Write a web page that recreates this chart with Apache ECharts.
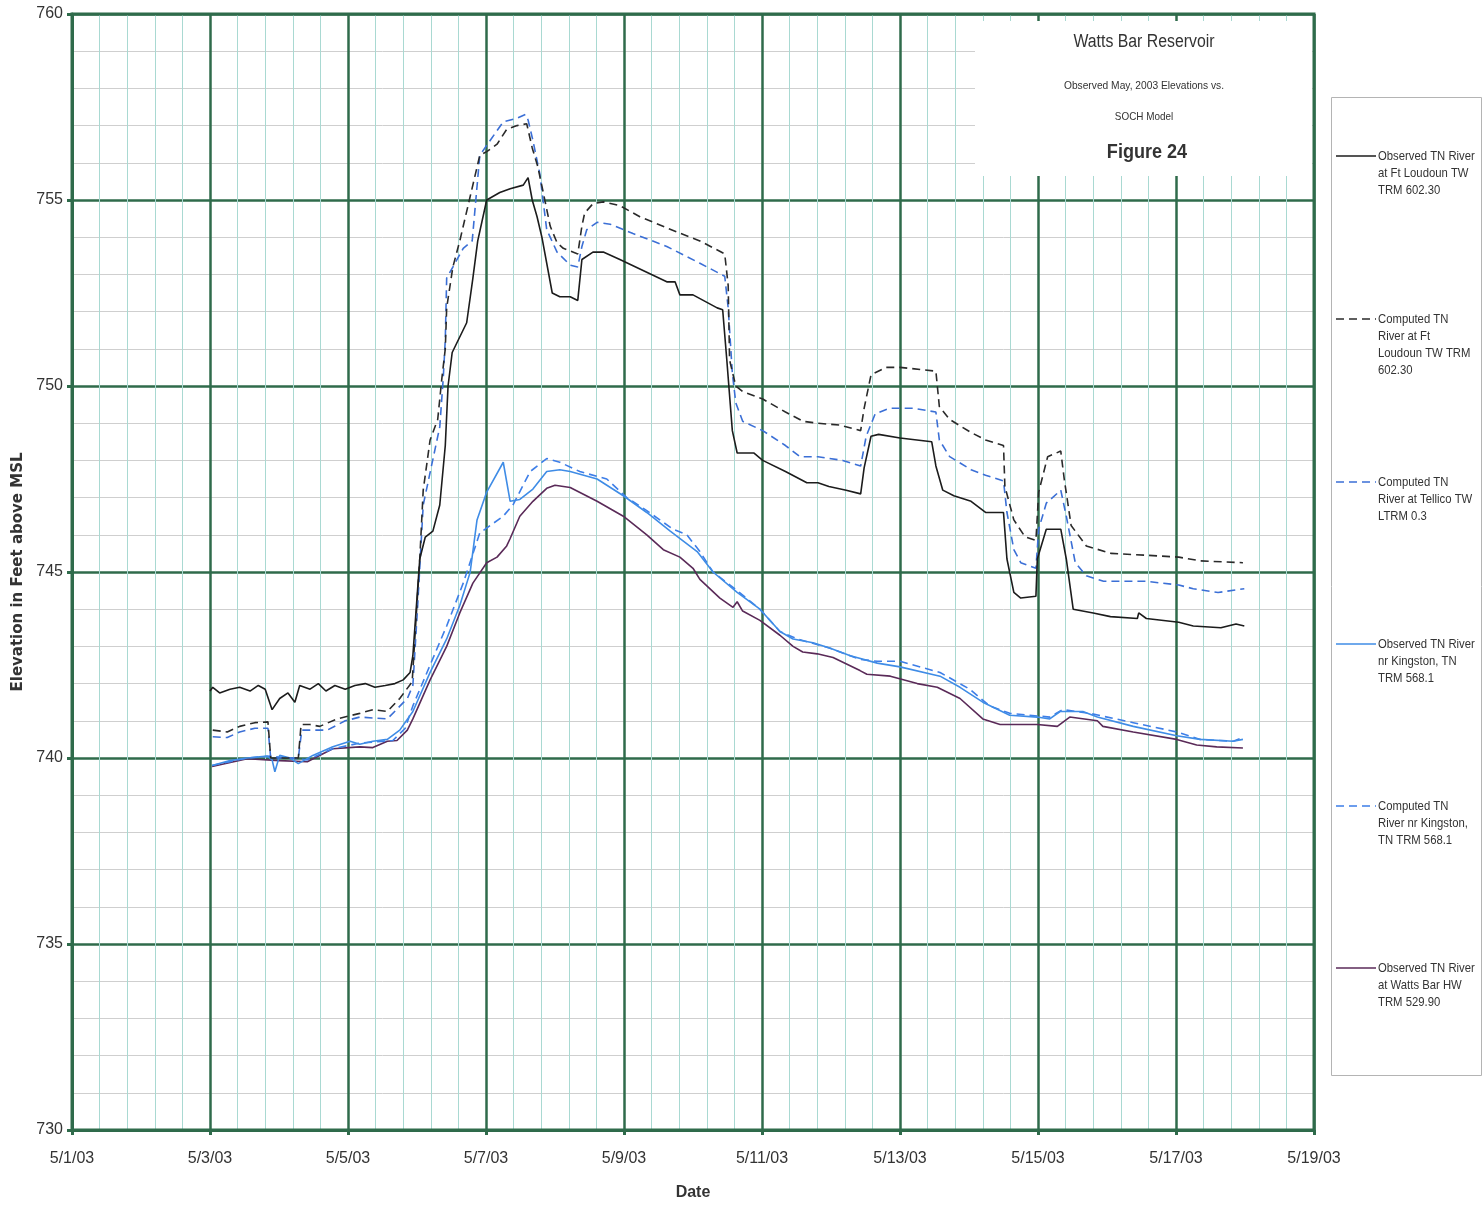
<!DOCTYPE html>
<html>
<head>
<meta charset="utf-8">
<script src="https://cdn.jsdelivr.net/npm/echarts@6/dist/echarts.min.js"></script>
<style>
html,body{margin:0;padding:0;background:#fff;}
#chart{width:1484px;height:1206px;}
</style>
</head>
<body>
<div id="chart"></div>
<script>
// x values are days since 5/1/03 00:00, y values are elevation (ft above MSL)
var xTickLabels = ['5/1/03','5/3/03','5/5/03','5/7/03','5/9/03','5/11/03','5/13/03','5/15/03','5/17/03','5/19/03'];

var seriesNames = [
  'Observed TN River\nat Ft Loudoun TW\nTRM 602.30',
  'Computed TN\nRiver at Ft\nLoudoun TW TRM\n602.30',
  'Computed TN\nRiver at Tellico TW\nLTRM 0.3',
  'Observed TN River\nnr Kingston, TN\nTRM 568.1',
  'Computed TN\nRiver nr Kingston,\nTN TRM 568.1',
  'Observed TN River\nat Watts Bar HW\nTRM 529.90'
];

var obsLoudoun = [
  [2.00,741.8],[2.04,741.9],[2.14,741.75],[2.29,741.85],[2.43,741.9],[2.58,741.8],[2.70,741.95],[2.80,741.85],
  [2.90,741.3],[3.01,741.6],[3.13,741.75],[3.23,741.5],[3.30,741.95],[3.45,741.85],[3.57,742.0],[3.68,741.8],
  [3.81,741.95],[3.96,741.85],[4.10,741.95],[4.25,742.0],[4.39,741.9],[4.54,741.95],[4.68,742.0],[4.80,742.1],
  [4.90,742.3],[4.94,742.75],[5.04,745.35],[5.12,745.94],[5.23,746.1],[5.33,746.8],[5.41,748.4],[5.45,750.0],
  [5.51,750.9],[5.72,751.7],[5.81,752.9],[5.88,753.9],[6.01,755.0],[6.20,755.2],[6.35,755.3],[6.54,755.4],
  [6.61,755.6],[6.67,755.0],[6.74,754.55],[6.81,754.0],[6.96,752.5],[7.07,752.4],[7.22,752.4],[7.33,752.3],
  [7.39,753.4],[7.55,753.6],[7.70,753.6],[7.94,753.4],[8.62,752.8],[8.74,752.8],[8.81,752.45],[9.00,752.45],
  [9.35,752.1],[9.43,752.05],[9.49,750.7],[9.57,748.8],[9.64,748.2],[9.88,748.2],[10.01,748.0],[10.34,747.7],
  [10.65,747.4],[10.81,747.4],[10.97,747.3],[11.22,747.2],[11.43,747.1],[11.48,747.8],[11.58,748.65],[11.69,748.7],
  [12.00,748.6],[12.46,748.5],[12.52,747.85],[12.62,747.2],[12.78,747.05],[13.03,746.9],[13.24,746.6],[13.50,746.6],
  [13.55,745.35],[13.65,744.45],[13.75,744.3],[13.97,744.35],[13.99,745.35],[14.12,746.15],[14.33,746.15],[14.41,745.35],
  [14.51,744.0],[14.80,743.9],[15.05,743.8],[15.44,743.75],[15.46,743.9],[15.57,743.75],[16.04,743.65],[16.25,743.55],
  [16.65,743.5],[16.87,743.6],[16.99,743.55]
];

var compLoudoun = [
  [2.04,740.75],[2.25,740.7],[2.43,740.85],[2.65,740.95],[2.84,740.97],[2.88,740.0],[3.09,740.0],[3.28,740.0],
  [3.32,740.9],[3.45,740.9],[3.59,740.85],[3.84,741.05],[4.17,741.2],[4.36,741.3],[4.57,741.25],[4.75,741.6],
  [4.93,742.05],[5.04,745.35],[5.09,747.2],[5.19,748.55],[5.30,749.1],[5.36,750.2],[5.41,751.0],[5.43,752.1],
  [5.52,753.2],[5.62,753.9],[5.91,756.2],[6.01,756.3],[6.16,756.5],[6.30,756.9],[6.45,757.0],[6.59,757.05],
  [6.67,756.4],[6.75,755.9],[6.83,755.2],[6.93,754.3],[7.03,753.85],[7.12,753.7],[7.33,753.55],[7.39,754.3],
  [7.43,754.65],[7.55,754.9],[7.70,754.95],[7.94,754.85],[8.23,754.55],[8.62,754.25],[9.10,753.9],[9.46,753.55],
  [9.51,752.7],[9.53,750.7],[9.62,750.0],[9.72,749.85],[10.01,749.65],[10.34,749.3],[10.60,749.05],[10.81,749.0],
  [11.12,748.95],[11.43,748.8],[11.48,749.4],[11.58,750.3],[11.80,750.5],[12.00,750.5],[12.52,750.4],[12.57,749.45],
  [12.72,749.1],[13.03,748.75],[13.24,748.55],[13.50,748.4],[13.52,747.3],[13.65,746.4],[13.81,745.95],[13.97,745.85],
  [14.01,747.15],[14.14,748.1],[14.33,748.25],[14.38,747.5],[14.48,746.25],[14.70,745.7],[15.06,745.5],[15.57,745.45],
  [16.04,745.4],[16.35,745.3],[16.97,745.25]
];

var compTellico = [
  [2.04,740.57],[2.25,740.55],[2.43,740.7],[2.65,740.8],[2.84,740.8],[2.88,740.0],[3.09,740.0],[3.28,740.0],
  [3.33,740.75],[3.70,740.75],[3.96,741.0],[4.17,741.1],[4.57,741.05],[4.86,741.6],[4.94,741.95],[5.01,744.1],
  [5.09,746.8],[5.33,748.9],[5.38,750.2],[5.41,751.25],[5.43,752.9],[5.67,753.7],[5.80,753.9],[5.91,756.2],
  [6.06,756.6],[6.25,757.1],[6.45,757.2],[6.57,757.3],[6.61,757.15],[6.68,756.6],[6.78,755.7],[6.88,754.2],
  [7.03,753.6],[7.22,753.25],[7.33,753.2],[7.39,753.75],[7.46,754.2],[7.61,754.4],[7.80,754.35],[8.13,754.1],
  [8.62,753.75],[9.10,753.3],[9.46,752.95],[9.51,752.1],[9.57,750.35],[9.62,749.55],[9.72,749.05],[10.01,748.8],
  [10.34,748.4],[10.55,748.1],[10.81,748.1],[11.17,748.0],[11.43,747.85],[11.51,748.65],[11.64,749.25],[11.84,749.4],
  [12.20,749.4],[12.52,749.3],[12.57,748.55],[12.72,748.1],[13.03,747.75],[13.24,747.6],[13.50,747.45],[13.55,746.6],
  [13.65,745.6],[13.75,745.25],[13.97,745.1],[14.01,746.15],[14.12,746.85],[14.33,747.2],[14.41,746.5],[14.54,745.25],
  [14.70,744.9],[14.95,744.75],[15.57,744.75],[16.04,744.65],[16.25,744.55],[16.61,744.45],[16.99,744.55]
];

var obsKingston = [
  [2.03,739.8],[2.29,739.93],[2.54,740.0],[2.83,740.05],[2.90,739.95],[2.94,739.63],[3.01,740.07],[3.16,740.0],
  [3.28,739.85],[3.49,740.07],[3.78,740.3],[4.03,740.45],[4.17,740.37],[4.36,740.45],[4.57,740.5],[4.75,740.75],
  [4.94,741.25],[5.19,742.3],[5.43,743.2],[5.62,744.1],[5.77,744.99],[5.87,746.4],[6.01,747.15],[6.25,747.95],
  [6.35,746.9],[6.49,746.95],[6.68,747.23],[6.88,747.7],[7.07,747.75],[7.22,747.7],[7.61,747.5],[7.99,747.05],
  [8.33,746.6],[8.67,746.1],[9.06,745.55],[9.29,745.0],[9.64,744.45],[9.97,744.0],[10.26,743.4],[10.45,743.2],
  [10.74,743.1],[10.99,742.95],[11.28,742.75],[11.67,742.55],[12.00,742.45],[12.58,742.2],[12.87,741.9],[13.20,741.5],
  [13.59,741.15],[13.99,741.1],[14.17,741.05],[14.32,741.25],[14.65,741.25],[14.86,741.1],[15.38,740.85],[16.01,740.6],
  [16.35,740.5],[16.83,740.45],[16.97,740.5]
];

var compKingston = [
  [2.03,739.8],[2.54,740.0],[2.87,740.05],[3.16,740.0],[3.41,739.95],[3.78,740.25],[4.17,740.4],[4.65,740.47],
  [4.83,740.8],[4.94,741.4],[5.19,742.5],[5.43,743.55],[5.67,744.7],[5.91,746.05],[6.25,746.5],[6.39,746.8],
  [6.64,747.7],[6.88,748.05],[7.07,747.95],[7.36,747.7],[7.75,747.5],[8.04,747.0],[8.33,746.65],[8.71,746.15],
  [8.91,746.0],[9.10,745.55],[9.29,745.0],[9.64,744.5],[9.97,744.0],[10.26,743.4],[10.51,743.2],[10.99,742.95],
  [11.42,742.65],[11.67,742.6],[12.00,742.6],[12.58,742.3],[13.01,741.85],[13.30,741.4],[13.59,741.2],[14.17,741.1],
  [14.36,741.3],[14.75,741.2],[15.38,740.95],[16.01,740.7],[16.35,740.5],[16.83,740.45],[16.97,740.55]
];

var obsWattsBar = [
  [2.03,739.77],[2.54,739.98],[3.01,739.93],[3.41,739.9],[3.78,740.25],[4.17,740.3],[4.36,740.28],[4.57,740.45],
  [4.71,740.47],[4.86,740.75],[4.94,741.05],[5.19,742.1],[5.43,743.0],[5.62,743.9],[5.81,744.7],[6.01,745.25],
  [6.16,745.4],[6.30,745.7],[6.35,745.9],[6.49,746.5],[6.68,746.9],[6.88,747.25],[7.00,747.33],[7.22,747.27],
  [7.61,746.9],[7.99,746.5],[8.33,746.0],[8.57,745.6],[8.81,745.4],[9.00,745.1],[9.10,744.8],[9.39,744.3],
  [9.58,744.05],[9.64,744.2],[9.72,743.95],[9.97,743.7],[10.26,743.3],[10.45,743.0],[10.59,742.85],[10.80,742.8],
  [11.03,742.7],[11.42,742.35],[11.52,742.25],[11.86,742.2],[12.25,742.0],[12.54,741.9],[12.87,741.6],[13.20,741.05],
  [13.45,740.9],[13.99,740.9],[14.28,740.85],[14.46,741.1],[14.86,741.0],[14.94,740.85],[15.38,740.7],[16.01,740.5],
  [16.30,740.35],[16.59,740.3],[16.97,740.27]
];

var titleLines = ['Watts Bar Reservoir', 'Observed May, 2003 Elevations vs.', 'SOCH Model', 'Figure 24'];

var FONT = "'Liberation Sans', Arial, sans-serif";
var MAJOR = '#2f6b4b';
var styles = [
  {color:'#1c1c1c', type:'solid', width:1.6},
  {color:'#2a2a2a', type:[8,5], width:1.6},
  {color:'#3b6fd6', type:[8,5], width:1.6},
  {color:'#3f8ce6', type:'solid', width:1.6},
  {color:'#3d7ee8', type:[8,5], width:1.6},
  {color:'#5a2a58', type:'solid', width:1.6}
];
var datasets = [obsLoudoun, compLoudoun, compTellico, obsKingston, compKingston, obsWattsBar];

var series = datasets.map(function(d, i){
  return {
    name: seriesNames[i], type:'line', data: d, showSymbol:false, symbol:'none',
    lineStyle: {color: styles[i].color, type: styles[i].type, width: styles[i].width},
    itemStyle: {color: styles[i].color},
    z: 10 - i, animation:false
  };
});

function centerText(txt, x, y, font, sx){
  return {type:'text', x:x, y:y, scaleX:sx, z:101,
    style:{x:0, y:0, text:txt, font:font, fill:'#333', textAlign:'center', textVerticalAlign:'middle'}};
}

var legendY = [156, 319, 482, 644, 806, 968];
var graphics = [
  {type:'rect', shape:{x:975, y:21, width:337, height:155}, style:{fill:'#fff'}, z:100},
  centerText(titleLines[0], 1144, 42, '18px ' + FONT, 0.88),
  centerText(titleLines[1], 1144, 86, '11px ' + FONT, 0.93),
  centerText(titleLines[2], 1144, 117, '11px ' + FONT, 0.9),
  centerText(titleLines[3], 1147, 152, 'bold 21px ' + FONT, 0.86),
  {type:'rect', shape:{x:1331.5, y:97.5, width:150, height:978}, style:{fill:'#fff', stroke:'#b4b4b4', lineWidth:1}, z:100}
];
legendY.forEach(function(y, i){
  graphics.push({type:'line', shape:{x1:1336, y1:y, x2:1376, y2:y}, z:101,
    style:{stroke:styles[i].color, lineWidth:1.6, lineDash: styles[i].type === 'solid' ? null : styles[i].type}});
  graphics.push({type:'text', x:1378, y:y - 8, scaleX:0.87, z:101,
    style:{x:0, y:0, text:seriesNames[i], font:'13px ' + FONT, fill:'#333', lineHeight:17, textVerticalAlign:'top'}});
});

var chart = echarts.init(document.getElementById('chart'), null, {renderer:'canvas'});
chart.setOption({
  backgroundColor:'#fff',
  animation:false,
  grid:{left:72, right:170, top:14, bottom:74, show:true, borderColor:MAJOR, borderWidth:3, backgroundColor:'transparent', z:1},
  xAxis:{
    type:'value', min:0, max:18, interval:2,
    axisLine:{show:true, lineStyle:{color:MAJOR, width:3}},
    axisTick:{show:true, length:5, lineStyle:{color:MAJOR, width:3}},
    axisLabel:{margin:21, fontSize:16, color:'#333', fontFamily:FONT,
      formatter:function(v){ return xTickLabels[Math.round(v/2)]; }},
    splitLine:{show:true, lineStyle:{color:MAJOR, width:2.5}},
    minorTick:{show:false, splitNumber:5},
    minorSplitLine:{show:true, lineStyle:{color:'#a9d9d2', width:1}},
    name:'Date', nameLocation:'middle', nameGap:55,
    nameTextStyle:{fontSize:16, fontWeight:'bold', color:'#333', fontFamily:FONT}
  },
  yAxis:{
    type:'value', min:730, max:760, interval:5,
    axisLine:{show:true, lineStyle:{color:MAJOR, width:3}},
    axisTick:{show:true, length:5, lineStyle:{color:MAJOR, width:3}},
    axisLabel:{margin:9, fontSize:16, color:'#333', fontFamily:FONT},
    splitLine:{show:true, lineStyle:{color:MAJOR, width:2.5}},
    minorTick:{show:false, splitNumber:5},
    minorSplitLine:{show:true, lineStyle:{color:'#cfcfcf', width:1}},
    name:'Elevation in Feet above MSL', nameLocation:'middle', nameGap:43,
    nameTextStyle:{fontSize:15, fontWeight:'bold', color:'#333', fontFamily:"'DejaVu Sans', sans-serif"}
  },
  series: series,
  graphic: graphics
});
</script>
</body>
</html>
